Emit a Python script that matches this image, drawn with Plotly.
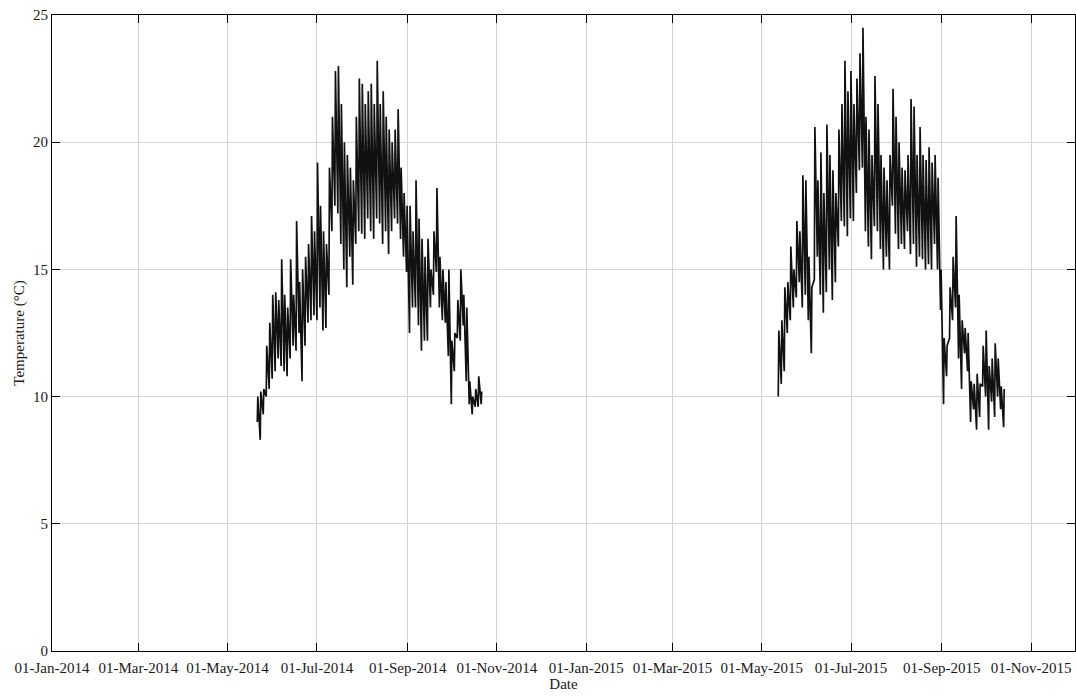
import pandas as pd
import plotly.graph_objects as go

# Logged water temperature, summarised as the low / high swing of each ~2-day step
start_2014 = "2014-05-21"
end_2014 = "2014-10-21"
low_2014 = [9.0, 8.3, 9.3, 10.0, 10.3, 10.7, 11.0, 11.5, 11.2, 11.0, 10.8, 11.5, 12.0, 11.8,
            12.5, 10.6, 12.0, 12.9, 13.0, 13.2, 13.0, 13.5, 12.6, 12.7, 14.0, 16.5, 17.5, 17.2,
            16.0, 15.0, 14.3, 15.5, 14.4, 16.0, 16.5, 16.4, 16.2, 17.0, 16.5, 16.2, 17.0, 16.8,
            16.0, 16.5, 15.6, 16.5, 17.0, 16.8, 16.2, 15.5, 14.9, 12.5, 13.5, 13.5, 12.8, 11.8,
            12.2, 12.2, 13.5, 14.0, 14.9, 13.5, 13.0, 12.9, 11.6, 9.7, 11.0, 12.3, 12.2, 12.8,
            10.6, 9.7, 9.3, 9.6, 9.6, 9.7]
high_2014 = [10.0, 10.2, 10.3, 12.0, 12.9, 14.0, 14.1, 13.8, 15.4, 14.0, 13.5, 15.4, 14.0, 16.9,
             14.5, 15.0, 15.5, 16.0, 17.1, 16.5, 19.2, 17.5, 16.5, 16.0, 19.0, 21.0, 22.8, 23.0,
             21.5, 20.0, 19.5, 19.0, 18.5, 21.0, 22.5, 22.3, 21.5, 22.0, 22.3, 21.5, 23.2, 21.5,
             22.0, 21.0, 20.5, 20.0, 20.5, 21.3, 19.0, 18.0, 17.5, 17.5, 16.5, 18.5, 17.0, 16.2,
             15.5, 16.2, 15.0, 16.5, 18.2, 15.5, 15.0, 14.5, 15.0, 12.2, 12.5, 13.8, 15.0, 14.0,
             13.5, 10.6, 10.0, 10.3, 10.8, 10.2]

start_2015 = "2015-05-12"
end_2015 = "2015-10-13"
low_2015 = [10.0, 10.5, 11.0, 12.5, 13.0, 13.5, 13.9, 14.5, 13.5, 14.0, 13.0, 11.7, 14.6, 15.5,
            14.0, 13.3, 14.1, 15.0, 13.8, 14.5, 15.9, 16.9, 16.7, 16.3, 17.0, 16.9, 18.0, 18.9,
            19.0, 16.5, 15.9, 15.4, 16.7, 16.5, 15.8, 15.0, 15.5, 15.0, 17.5, 16.4, 15.8, 16.0,
            15.8, 16.5, 15.6, 16.0, 15.1, 15.5, 15.4, 15.0, 15.2, 15.0, 16.0, 15.0, 13.4, 9.7,
            10.8, 12.3, 13.0, 13.5, 11.5, 10.3, 11.7, 11.0, 9.0, 9.5, 8.7, 9.2, 10.4, 10.0,
            8.7, 9.8, 9.2, 10.0, 9.5, 8.8]
high_2015 = [12.6, 13.0, 14.3, 14.5, 15.9, 15.0, 16.9, 16.5, 18.7, 18.5, 15.5, 14.3, 20.6, 18.5,
             19.6, 18.0, 20.7, 19.5, 18.9, 18.0, 20.5, 21.5, 23.2, 22.0, 22.8, 21.5, 22.5, 23.5,
             24.5, 21.0, 20.5, 19.5, 22.6, 21.5, 19.5, 19.0, 18.5, 19.5, 22.1, 21.0, 20.0, 19.0,
             18.9, 19.5, 21.7, 21.4, 19.5, 20.6, 19.5, 19.3, 19.8, 19.2, 19.5, 18.6, 15.0, 12.3,
             12.0, 14.3, 15.5, 17.1, 14.0, 13.0, 12.7, 12.5, 10.6, 10.5, 10.9, 10.5, 12.0, 12.6,
             11.2, 11.5, 12.1, 11.5, 10.4, 10.3]

x_ticks_start = "2014-01-01"
x_range = ["2014-01-01", "2015-12-01"]
y_range = [0, 25]


def daily_swing(start, end, lows, highs):
    """Interleave each step's early-morning low and afternoon high into one trace."""
    days = pd.date_range(start, end, periods=len(lows))
    xs, ys = [], []
    for d, lo, hi in zip(days, lows, highs):
        xs += [d + pd.Timedelta(hours=6), d + pd.Timedelta(hours=15)]
        ys += [lo, hi]
    return xs, ys


fig = go.Figure()
for start, end, lows, highs in [(start_2014, end_2014, low_2014, high_2014),
                                (start_2015, end_2015, low_2015, high_2015)]:
    xs, ys = daily_swing(start, end, lows, highs)
    fig.add_trace(go.Scatter(x=xs, y=ys, mode="lines",
                             line=dict(color="#111111", width=1.7),
                             showlegend=False, hoverinfo="skip"))

font_family = "Liberation Serif, DejaVu Serif, serif"
axis_common = dict(
    showline=True, linecolor="black", linewidth=1, mirror="ticks",
    ticks="inside", ticklen=8, tickwidth=1, tickcolor="black",
    showgrid=True, gridcolor="#d4d4d4", gridwidth=1, zeroline=False,
    tickfont=dict(family=font_family, size=15, color="#1a1a1a"),
)

fig.update_layout(
    width=1076, height=696,
    margin=dict(l=52, r=1, t=15, b=45),
    paper_bgcolor="white", plot_bgcolor="white",
    font=dict(family=font_family, size=15, color="#1a1a1a"),
    xaxis=dict(range=x_range, tick0=x_ticks_start, dtick="M2", tickformat="%d-%b-%Y",
               ticklabelstandoff=3,
               title=dict(text="Date", standoff=0, font=dict(size=15)), **axis_common),
    yaxis=dict(range=y_range, dtick=5,
               title=dict(text="Temperature (°C)", standoff=4, font=dict(size=15)), **axis_common),
)

fig.write_html("out.html")
